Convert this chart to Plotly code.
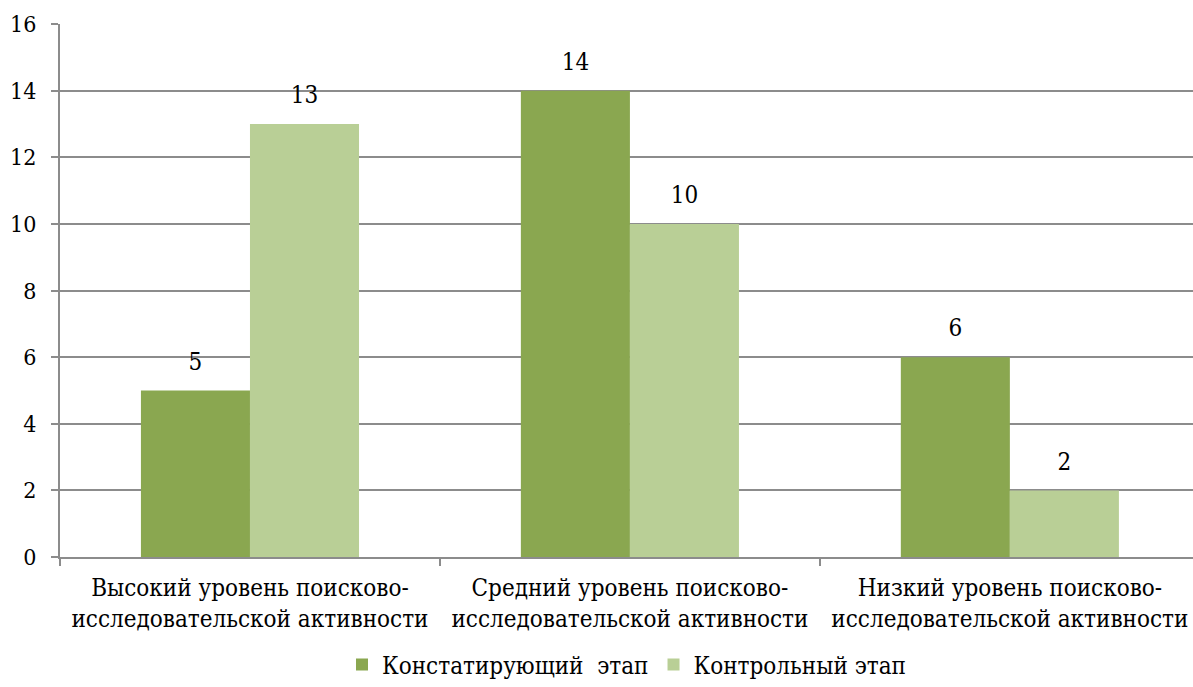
import plotly.graph_objects as go

categories = [
    "Высокий уровень поисково-<br>исследовательской активности",
    "Средний уровень поисково-<br>исследовательской активности",
    "Низкий уровень поисково-<br>исследовательской активности",
]
series_names = ["Констатирующий  этап", "Контрольный этап"]
stage_ascertaining = [5, 14, 6]
stage_control = [13, 10, 2]
y_ticks = [0, 2, 4, 6, 8, 10, 12, 14, 16]

FONT = "DejaVu Serif Condensed, DejaVu Serif"
DARK = "#8AA750"
LIGHT = "#B9CF96"
GAP = 0.426

fig = go.Figure()
for name, vals, color in [
    (series_names[0], stage_ascertaining, DARK),
    (series_names[1], stage_control, LIGHT),
]:
    fig.add_trace(go.Bar(
        x=categories, y=vals, name=name,
        marker=dict(color=color, line=dict(width=0)),
        offsetgroup=name,
    ))

# value labels: grouped text points sitting above each bar
for name, vals in [
    (series_names[0], stage_ascertaining),
    (series_names[1], stage_control),
]:
    fig.add_trace(go.Scatter(
        x=categories, y=vals, mode="markers+text",
        text=[str(v) for v in vals], textposition="top center",
        textfont=dict(family=FONT, size=24, color="#000000"),
        marker=dict(size=22, opacity=0),
        offsetgroup=name, showlegend=False, hoverinfo="skip",
        cliponaxis=False,
    ))

fig.update_layout(
    width=1193, height=687,
    margin=dict(l=60, r=0, t=24, b=130, autoexpand=False),
    paper_bgcolor="white", plot_bgcolor="white",
    barmode="group", bargap=GAP, bargroupgap=0,
    scattermode="group", scattergap=GAP,
    font=dict(family=FONT, size=22, color="#000000"),
    showlegend=True,
    legend=dict(
        orientation="h", x=0.5, xanchor="center", y=-0.16, yanchor="top",
        font=dict(family=FONT, size=24, color="#000000"),
        itemwidth=30, traceorder="normal",
    ),
    xaxis=dict(
        range=[-0.5, 2.482], tickson="boundaries", automargin=False,
        ticks="outside", ticklen=7, tickcolor="#8C8C8C", tickwidth=2,
        showline=True, linecolor="#8C8C8C", linewidth=2,
        showgrid=False, tickfont=dict(family=FONT, size=24),
        ticklabelstandoff=8, fixedrange=True,
    ),
    yaxis=dict(
        range=[0, 16], tickvals=y_ticks, automargin=False,
        ticks="outside", ticklen=7, tickcolor="#8C8C8C", tickwidth=2,
        showline=True, linecolor="#8C8C8C", linewidth=2,
        showgrid=True, gridcolor="#8C8C8C", gridwidth=2,
        zeroline=False, ticklabelstandoff=10,
        tickfont=dict(family=FONT, size=23),
    ),
)

fig.write_html("out.html")
